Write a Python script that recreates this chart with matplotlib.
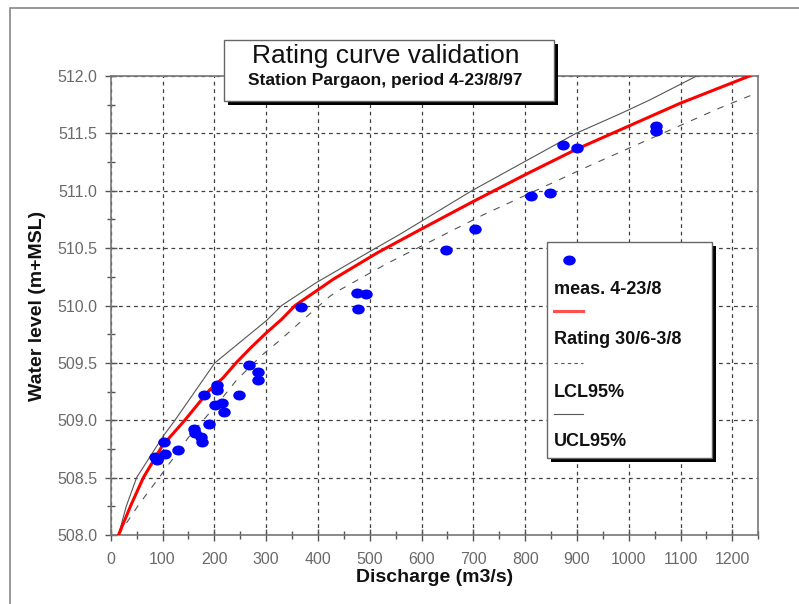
import matplotlib.pyplot as plt
from matplotlib.patches import Rectangle
from matplotlib.lines import Line2D
from matplotlib.path import Path
from matplotlib.transforms import Affine2D
from matplotlib.ticker import MultipleLocator

plt.rcParams['font.family'] = ['Liberation Sans', 'DejaVu Sans']

# measurements 4-23/8
meas_q = [85, 89, 102, 105, 129, 161, 163, 174, 176, 189, 180, 201, 214, 218,
          205, 205, 248, 266, 285, 285, 368, 476, 492, 478,
          648, 703, 812, 848, 873, 901, 1052, 1053]
meas_h = [508.68, 508.65, 508.81, 508.71, 508.74, 508.92, 508.89, 508.85, 508.81,
          508.97, 509.22, 509.13, 509.15, 509.07, 509.31, 509.26, 509.22, 509.48,
          509.42, 509.35, 509.99, 510.11, 510.10, 509.97,
          510.48, 510.67, 510.95, 510.98, 511.40, 511.37, 511.56, 511.52]

# rating curve 30/6-3/8
rating_q = [15, 40, 63, 100, 143, 190, 217, 242, 270, 300, 330, 356,
            430, 515, 597, 697, 800, 898, 983, 1098, 1233]
rating_h = [508.0, 508.27, 508.5, 508.78, 509.0, 509.26, 509.37, 509.5, 509.63,
            509.76, 509.88, 510.0, 510.23, 510.46, 510.66, 510.9, 511.14, 511.36,
            511.53, 511.76, 512.0]

# lower confidence limit
lcl_q = [15, 55, 95, 150, 211, 243, 290, 330, 352, 423, 436, 535, 719, 925,
         1085, 1175, 1246]
lcl_h = [508.0, 508.27, 508.51, 508.85, 509.17, 509.35, 509.56, 509.71, 509.8,
         510.08, 510.12, 510.37, 510.79, 511.22, 511.54, 511.72, 511.85]

# upper confidence limit
ucl_q = [15, 30, 50, 101, 124, 201, 301, 330, 397, 500, 558, 697, 898, 983, 1040, 1131]
ucl_h = [508.0, 508.25, 508.5, 508.86, 509.0, 509.5, 509.87, 510.0, 510.2, 510.47,
         510.62, 511.0, 511.5, 511.67, 511.79, 512.0]

W, H = 799, 604
fig = plt.figure(figsize=(W / 100, H / 100), dpi=100)
ax = fig.add_axes([110.7 / W, 1 - 535 / H, (758.3 - 110.7) / W, (535 - 76) / H])

ell = Path.unit_circle().transformed(Affine2D().scale(1.3, 1.0))

ax.plot(ucl_q, ucl_h, color='#555555', lw=0.8, zorder=3)
ax.plot(lcl_q, lcl_h, color='#555555', lw=0.8, ls=(0, (6, 7)), zorder=3)
ax.plot(rating_q, rating_h, color='#ff0000', lw=2.2, zorder=4)
ax.plot(meas_q, meas_h, ls='none', marker=ell, ms=8, color='#0000ff',
        mec='#0000ff', zorder=5)

ax.set_xlim(0, 1250)
ax.set_ylim(508.0, 512.0)
ax.xaxis.set_minor_locator(MultipleLocator(50))
ax.yaxis.set_major_locator(MultipleLocator(0.5))
ax.yaxis.set_minor_locator(MultipleLocator(0.25))
ax.set_xticks(range(0, 1201, 100))
ax.set_xticklabels([str(v) for v in range(0, 1201, 100)])
ax.yaxis.set_major_formatter(plt.FormatStrFormatter('%.1f'))

ax.grid(True, which='major', color='#404040', lw=0.9, ls=(0, (3, 3)))
ax.tick_params(which='major', direction='inout', length=9, width=1,
               color='#555555', labelsize=11.5, labelcolor='#6a6a6a')
ax.tick_params(which='minor', direction='inout', length=6, width=1, color='#555555')
ax.tick_params(axis='x', which='major', pad=8)
ax.tick_params(axis='y', which='major', pad=5)
for s in ax.spines.values():
    s.set_color('#777777')
    s.set_linewidth(1.2)

ax.set_xlabel('Discharge (m3/s)', fontsize=14, fontweight='bold', color='#111111',
              labelpad=1)
ax.set_ylabel('Water level (m+MSL)', fontsize=14, fontweight='bold', color='#111111',
              labelpad=8)


def fx(px):
    return px / W


def fy(py):
    return 1 - py / H


# outer frame
fig.add_artist(Rectangle((fx(10), fy(650)), fx(850), (650 - 8) / H, fill=False,
                         ec='#888888', lw=1.2, transform=fig.transFigure))

# title box with shadow
fig.add_artist(Rectangle((fx(228), fy(105)), fx(330), 61 / H, fc='black', ec='none',
                         transform=fig.transFigure, zorder=5))
fig.add_artist(Rectangle((fx(224), fy(101)), fx(330), 61 / H, fc='white', ec='#666666',
                         lw=1, transform=fig.transFigure, zorder=6))
fig.text(fx(386), fy(56), 'Rating curve validation', fontsize=19, ha='center',
         va='center', color='#111111', zorder=7)
fig.text(fx(385), fy(81), 'Station Pargaon, period 4-23/8/97', fontsize=12.5,
         fontweight='bold', ha='center', va='center', color='#111111', zorder=7)

# legend box with shadow
fig.add_artist(Rectangle((fx(551), fy(462)), fx(165), 216 / H, fc='black', ec='none',
                         transform=fig.transFigure, zorder=5))
fig.add_artist(Rectangle((fx(547), fy(458)), fx(165), 216 / H, fc='white', ec='#666666',
                         lw=1, transform=fig.transFigure, zorder=6))
fig.add_artist(Line2D([fx(568.7)], [fy(260.3)], ls='none', marker=ell, ms=8,
                      color='#0000ff', transform=fig.transFigure, zorder=7))
fig.add_artist(Line2D([fx(554), fx(583)], [fy(310.7)] * 2, color='#ff5050', lw=2.2,
                      transform=fig.transFigure, zorder=7))
fig.add_artist(Line2D([fx(554), fx(583)], [fy(362.7)] * 2, color='#555555', lw=0.8,
                      ls=(0, (3, 3)), transform=fig.transFigure, zorder=7))
fig.add_artist(Line2D([fx(554), fx(583)], [fy(414)] * 2, color='#555555', lw=0.8,
                      transform=fig.transFigure, zorder=7))
for txt, py in [('meas. 4-23/8', 290), ('Rating 30/6-3/8', 340),
                ('LCL95%', 392.7), ('UCL95%', 441.7)]:
    fig.text(fx(554), fy(py), txt, fontsize=13, fontweight='bold', ha='left',
             va='center', color='#111111', zorder=7)

fig.savefig('out.png', dpi=100)
